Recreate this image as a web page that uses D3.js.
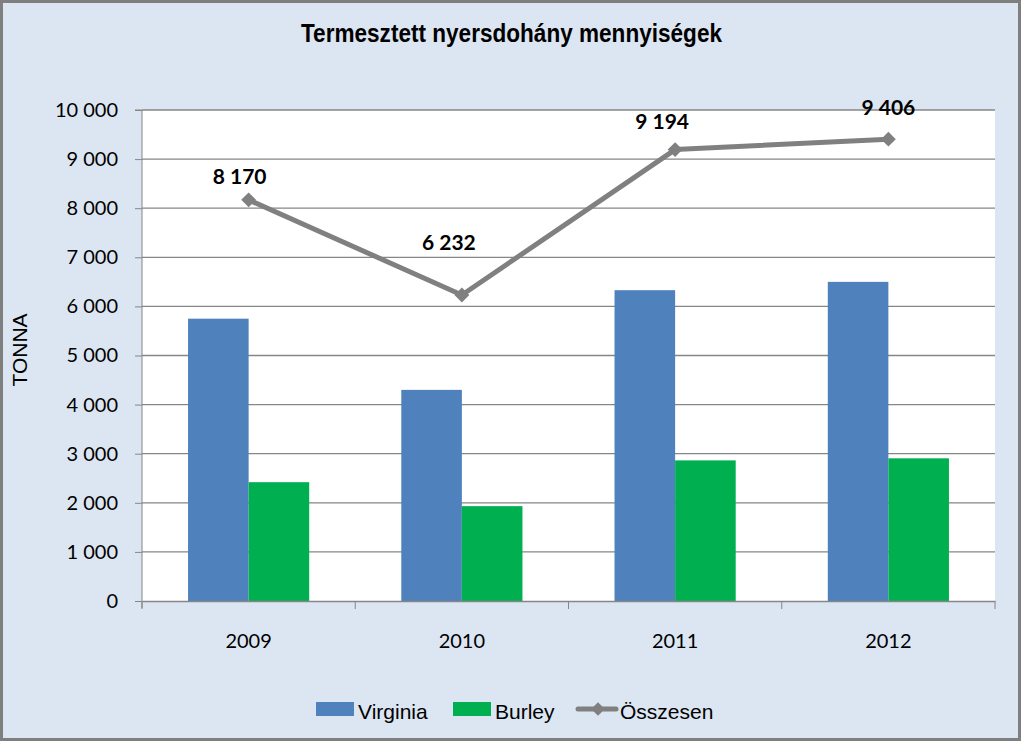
<!DOCTYPE html>
<html>
<head>
<meta charset="utf-8">
<script src="https://cdn.jsdelivr.net/npm/d3@7"></script>
<style>
  html, body { margin: 0; padding: 0; background: #ffffff; }
  svg { display: block; }
</style>
</head>
<body>
<svg width="1023" height="742"></svg>
<script>
// chart data
const years = ['2009', '2010', '2011', '2012'];
const virginia = [5750, 4300, 6330, 6500];
const burley = [2420, 1932, 2864, 2906];
const osszesen = [8170, 6232, 9194, 9406];
const seriesNames = ['Virginia', 'Burley', 'Összesen'];
const yTicks = [0, 1000, 2000, 3000, 4000, 5000, 6000, 7000, 8000, 9000, 10000];

// hand-placed data labels (dx, dy from the marker), as in the original
const labelNudge = [[-9, -16], [-13, -45], [-13, -21], [0, -24]];

const svg = d3.select('svg');
const plot = { left: 142, right: 995, top: 110, bottom: 601 };

// spaced thousands, like "10 000"
const fmt = v => d3.format(',')(v).replace(/,/g, ' ');
const numFont = 'Lato, "Open Sans", sans-serif';
const arialFont = '"Liberation Sans", Arial, sans-serif';

// outer frame
svg.append('rect')
    .attr('x', 1.5).attr('y', 1.5)
    .attr('width', 1018).attr('height', 738)
    .attr('fill', '#dce6f2')
    .attr('stroke', '#7f7f7f')
    .attr('stroke-width', 3);

// title, squeezed to look like Arial Narrow
svg.append('text')
    .attr('x', 301).attr('y', 42)
    .attr('textLength', 421)
    .attr('lengthAdjust', 'spacingAndGlyphs')
    .style('font-family', arialFont)
    .style('font-weight', 'bold')
    .style('font-size', '25px')
    .attr('fill', '#000')
    .text('Termesztett nyersdohány mennyiségek');

const x = d3.scaleBand()
    .domain(years)
    .range([plot.left, plot.right]);

const xInner = d3.scaleBand()
    .domain(['Virginia', 'Burley'])
    .range([0, x.bandwidth()])
    .paddingOuter(0.76)
    .paddingInner(0);

const y = d3.scaleLinear()
    .domain([0, 10000])
    .range([plot.bottom, plot.top]);

// plot area
svg.append('rect')
    .attr('x', plot.left).attr('y', plot.top)
    .attr('width', plot.right - plot.left)
    .attr('height', plot.bottom - plot.top)
    .attr('fill', '#ffffff');

// grid lines
svg.append('g')
    .selectAll('line')
    .data(yTicks.filter(d => d > 0))
    .enter()
    .append('line')
    .attr('x1', plot.left).attr('x2', plot.right)
    .attr('y1', d => y(d)).attr('y2', d => y(d))
    .attr('stroke', '#868686')
    .attr('stroke-width', 1.3);

// y axis
const yAxis = svg.append('g')
    .attr('transform', `translate(${plot.left},0)`)
    .call(d3.axisLeft(y).tickValues(yTicks).tickSize(7).tickPadding(17).tickFormat(fmt));
yAxis.select('.domain').attr('stroke', '#868686').attr('d', `M-7,${plot.top}H0V${plot.bottom + 7}`);
yAxis.selectAll('.tick line').attr('stroke', '#868686');
yAxis.selectAll('text')
    .style('font-family', numFont)
    .style('font-size', '20px')
    .attr('fill', '#000');

// bars
const groups = svg.append('g')
    .selectAll('g')
    .data(years)
    .enter()
    .append('g')
    .attr('transform', d => `translate(${x(d)},0)`);

groups.append('rect')
    .attr('x', xInner('Virginia'))
    .attr('width', xInner.bandwidth())
    .attr('y', (d, i) => y(virginia[i]))
    .attr('height', (d, i) => y(0) - y(virginia[i]))
    .attr('fill', '#4f81bd');

groups.append('rect')
    .attr('x', xInner('Burley'))
    .attr('width', xInner.bandwidth())
    .attr('y', (d, i) => y(burley[i]))
    .attr('height', (d, i) => y(0) - y(burley[i]))
    .attr('fill', '#00b050');

// x axis
const xAxis = svg.append('g')
    .attr('transform', `translate(0,${plot.bottom})`)
    .call(d3.axisBottom(x).tickSize(0).tickPadding(33));
xAxis.select('.domain').attr('stroke', '#868686').attr('stroke-width', 1.3);
xAxis.selectAll('text')
    .style('font-family', numFont)
    .style('font-size', '20px')
    .attr('fill', '#000');

// category separators below the axis
const edges = years.map(d => x(d)).concat([plot.right]);
svg.append('g')
    .selectAll('line')
    .data(edges)
    .enter()
    .append('line')
    .attr('x1', d => d).attr('x2', d => d)
    .attr('y1', plot.bottom).attr('y2', plot.bottom + 8)
    .attr('stroke', '#868686');

// total line
const cx = d => x(d) + x.bandwidth() / 2;
const line = d3.line()
    .x((d, i) => cx(years[i]))
    .y(d => y(d));

svg.append('path')
    .datum(osszesen)
    .attr('d', line)
    .attr('fill', 'none')
    .attr('stroke', '#808080')
    .attr('stroke-width', 5)
    .attr('stroke-linejoin', 'round');

svg.append('g')
    .selectAll('path')
    .data(osszesen)
    .enter()
    .append('path')
    .attr('d', d3.symbol().type(d3.symbolDiamond2).size(140))
    .attr('transform', (d, i) => `translate(${cx(years[i])},${y(d)})`)
    .attr('fill', '#808080');

svg.append('g')
    .selectAll('text')
    .data(osszesen)
    .enter()
    .append('text')
    .attr('x', (d, i) => cx(years[i]) + labelNudge[i][0])
    .attr('y', (d, i) => y(d) + labelNudge[i][1])
    .attr('text-anchor', 'middle')
    .style('font-family', numFont)
    .style('font-weight', 'bold')
    .style('font-size', '21px')
    .attr('fill', '#000')
    .text(fmt);

// y title
svg.append('text')
    .attr('transform', 'translate(27,350) rotate(-90)')
    .attr('text-anchor', 'middle')
    .style('font-family', arialFont)
    .style('font-size', '21px')
    .attr('fill', '#000')
    .text('TONNA');

// legend
const legend = svg.append('g').attr('transform', 'translate(316,719)');
const legendItems = [
    { name: seriesNames[0], x: 0, type: 'bar', color: '#4f81bd' },
    { name: seriesNames[1], x: 137, type: 'bar', color: '#00b050' },
    { name: seriesNames[2], x: 260, type: 'line', color: '#808080' }
];
legendItems.forEach(item => {
    const g = legend.append('g').attr('transform', `translate(${item.x},0)`);
    if (item.type === 'bar') {
        g.append('rect')
            .attr('x', 0).attr('y', -17)
            .attr('width', 38).attr('height', 14)
            .attr('fill', item.color);
    } else {
        g.append('line')
            .attr('x1', 2).attr('x2', 40)
            .attr('y1', -10).attr('y2', -10)
            .attr('stroke', item.color)
            .attr('stroke-width', 5)
            .attr('stroke-linecap', 'round');
        g.append('path')
            .attr('d', d3.symbol().type(d3.symbolDiamond2).size(120))
            .attr('transform', 'translate(22,-10)')
            .attr('fill', item.color);
    }
    g.append('text')
        .attr('x', item.type === 'bar' ? 42 : 44)
        .attr('y', 0)
        .style('font-family', arialFont)
        .style('font-size', '21px')
        .attr('fill', '#000')
        .text(item.name);
});
</script>
</body>
</html>
